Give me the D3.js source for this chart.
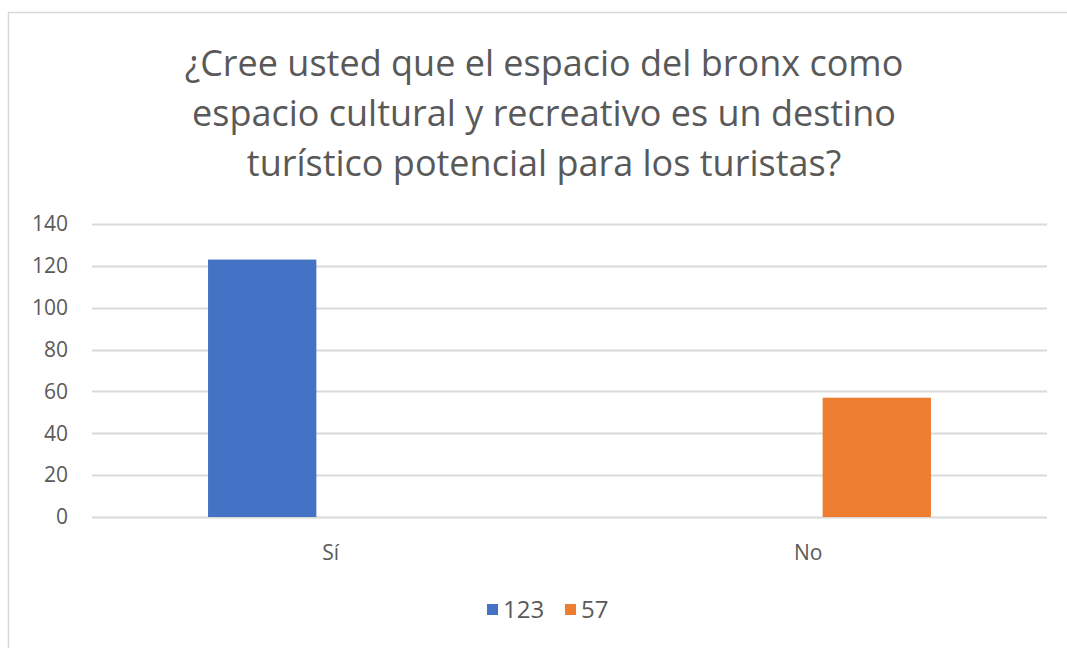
<!DOCTYPE html>
<html>
<head>
<meta charset="utf-8">
<script src="https://cdn.jsdelivr.net/npm/d3@7"></script>
<style>
  html, body { margin: 0; padding: 0; background: #fff; }
  svg { display: block; }
  text { font-family: "Open Sans", "Noto Sans", sans-serif; fill: #595959; }
</style>
</head>
<body>
<svg id="chart" width="1067" height="648"></svg>
<script>
// Chart data
const categories = ["Sí", "No"];
const seriesNames = ["123", "57"];
const seriesValues = [
  [123, 0],  // series "123"
  [0, 57]    // series "57"
];
const seriesColors = ["#4472c4", "#ed7d31"];
const yTicks = [0, 20, 40, 60, 80, 100, 120, 140];
const titleLines = [
  "¿Cree usted que el espacio del bronx como",
  "espacio cultural y recreativo es un destino",
  "turístico potencial para los turistas?"
];

const W = 1067, H = 648;
const plot = { left: 92, right: 1047, top: 224, bottom: 517 };
const svg = d3.select("#chart");

// Chart frame
svg.append("rect")
  .attr("x", 8.5).attr("y", 12.5)
  .attr("width", W + 20).attr("height", H + 20)
  .attr("fill", "#fff").attr("stroke", "#d9d9d9").attr("stroke-width", 1.5);

// Title
svg.append("g").selectAll("text")
  .data(titleLines)
  .join("text")
  .attr("x", 544)
  .attr("y", (d, i) => 76 + i * 50)
  .attr("text-anchor", "middle")
  .attr("font-size", 36)
  .text(d => d);

// Scales
const y = d3.scaleLinear().domain([0, 140]).range([plot.bottom, plot.top]);
const x0 = d3.scaleBand().domain(categories).range([plot.left, plot.right]).padding(0);
const bw = x0.bandwidth();
const x1 = d3.scaleBand().domain(seriesNames)
  .range([bw * 0.243, bw * 0.757]).paddingInner(0.21).paddingOuter(0);

// Value axis labels
const yAxis = d3.axisLeft(y).tickValues(yTicks).tickSize(0).tickPadding(24);
const gy = svg.append("g").attr("transform", `translate(${plot.left},0)`).call(yAxis);
gy.select(".domain").remove();
gy.selectAll("text").attr("font-size", 21).attr("fill", "#595959");

// Gridlines
svg.append("g").selectAll("line")
  .data(yTicks)
  .join("line")
  .attr("x1", plot.left).attr("x2", plot.right)
  .attr("y1", d => Math.round(y(d)) + 0.5).attr("y2", d => Math.round(y(d)) + 0.5)
  .attr("stroke", "#d9d9d9").attr("stroke-width", 2);

// Bars
const groups = svg.append("g").selectAll("g")
  .data(seriesNames.map((s, i) => ({ name: s, color: seriesColors[i], values: seriesValues[i] })))
  .join("g")
  .attr("fill", d => d.color);

groups.selectAll("rect")
  .data(d => categories.map((c, j) => ({ cat: c, name: d.name, value: d.values[j] })))
  .join("rect")
  .attr("x", d => x0(d.cat) + x1(d.name))
  .attr("width", x1.bandwidth())
  .attr("y", d => y(d.value))
  .attr("height", d => y(0) - y(d.value));

// Category axis
const xAxis = d3.axisBottom(x0).tickSize(0).tickPadding(28);
const gx = svg.append("g").attr("transform", `translate(0,${plot.bottom})`).call(xAxis);
gx.select(".domain").remove();
gx.selectAll("text").attr("font-size", 21).attr("fill", "#595959");

// Legend
const legendItems = [
  { name: seriesNames[0], color: seriesColors[0], x: 487 },
  { name: seriesNames[1], color: seriesColors[1], x: 565 }
];
const lg = svg.append("g").selectAll("g").data(legendItems).join("g")
  .attr("transform", d => `translate(${d.x},604)`);
lg.append("rect").attr("width", 11).attr("height", 11).attr("fill", d => d.color);
lg.append("text").attr("x", 16).attr("y", 14).attr("font-size", 24).text(d => d.name);
</script>
</body>
</html>
